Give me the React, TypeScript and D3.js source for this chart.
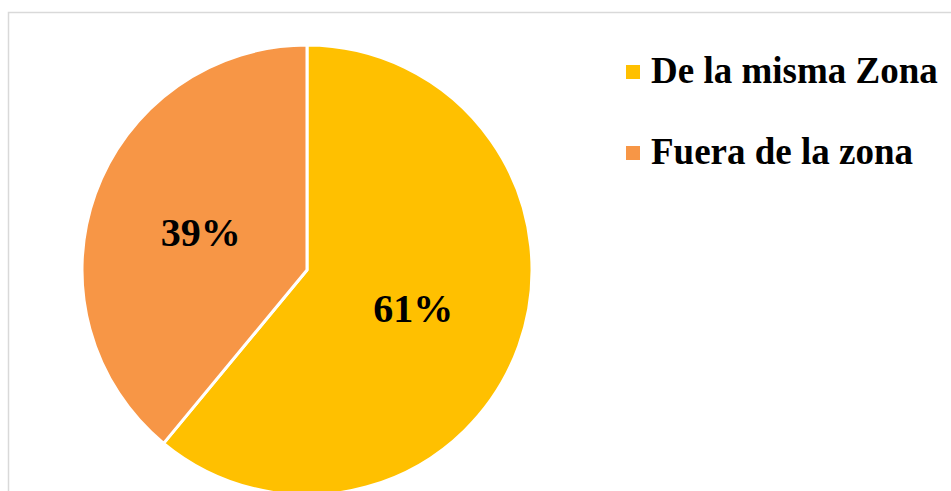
import React from "react";
import * as d3 from "d3";

const categories = ["De la misma Zona", "Fuera de la zona"];
const values = [61, 39];
const labels = ["61%", "39%"];
const colors = ["#FFC000", "#F79646"];

export default function App() {
  const W = 951, H = 491;
  const cx = 307, cy = 270, r = 225;
  const pie = d3.pie<number>().sort(null).value((d) => d)(values);
  const arc = d3.arc<d3.PieArcDatum<number>>().innerRadius(0).outerRadius(r);
  const labelArc = d3.arc<d3.PieArcDatum<number>>().innerRadius(113).outerRadius(113);
  const font = "Liberation Serif";
  return (
    <svg width={W} height={H} style={{ position: "absolute", left: 0, top: 0, background: "#fff" }}>
      <rect x={8.5} y={12.5} width={960} height={500} fill="#fff" stroke="#d9d9d9" strokeWidth={1.5} />
      <g transform={`translate(${cx},${cy})`}>
        {pie.map((p, i) => (
          <path key={i} d={arc(p) || ""} fill={colors[i]} stroke="#fff" strokeWidth={3} strokeLinejoin="round" />
        ))}
        {pie.map((p, i) => {
          const [x, y] = labelArc.centroid(p);
          return (
            <text key={i} x={x} y={y + 14} textAnchor="middle" fontFamily={font} fontWeight="bold" fontSize={40} fill="#000">
              {labels[i]}
            </text>
          );
        })}
      </g>
      {categories.map((c, i) => (
        <g key={i} transform={`translate(626,${65 + i * 81})`}>
          <rect x={0} y={0} width={14} height={14} fill={colors[i]} />
          <text x={25} y={18.3} fontFamily={font} fontWeight="bold" fontSize={37} fill="#000">
            {c}
          </text>
        </g>
      ))}
    </svg>
  );
}
